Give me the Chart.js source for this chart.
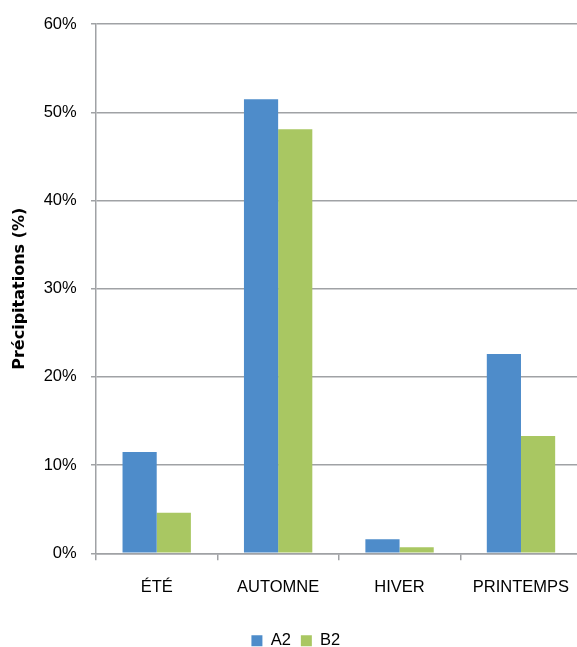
<!DOCTYPE html>
<html>
<head>
<meta charset="utf-8">
<script src="https://cdn.jsdelivr.net/npm/chart.js@4/dist/chart.umd.min.js"></script>
<style>
  html, body { margin: 0; padding: 0; overflow: hidden; background: #fff; width: 577px; height: 647px; }
  #wrap { position: absolute; left: 0; top: 0; width: 601px; height: 659px; }
</style>
</head>
<body>
<div id="wrap"><canvas id="c"></canvas></div>
<script>
const categories = ['ÉTÉ', 'AUTOMNE', 'HIVER', 'PRINTEMPS'];
const seriesNames = ['A2', 'B2'];
const valuesA2 = [11.5, 51.5, 1.6, 22.6];
const valuesB2 = [4.6, 48.1, 0.7, 13.3];
const yTicks = [0, 10, 20, 30, 40, 50, 60];
const yTitle = 'Précipitations (%)';

const GRID = '#a0a2a5';
const FONT = "'Liberation Sans', Arial, sans-serif";

new Chart(document.getElementById('c'), {
  type: 'bar',
  data: {
    labels: categories,
    datasets: [
      { label: seriesNames[0], data: valuesA2, backgroundColor: '#4e8cca', borderWidth: 0 },
      { label: seriesNames[1], data: valuesB2, backgroundColor: '#a9c762', borderWidth: 0 }
    ]
  },
  options: {
    responsive: true,
    maintainAspectRatio: false,
    devicePixelRatio: 1,
    animation: false,
    layout: { padding: { top: 21.7, left: 10, right: 19.3, bottom: 0 } },
    datasets: { bar: { categoryPercentage: 0.563, barPercentage: 1 } },
    plugins: {
      legend: {
        position: 'bottom',
        labels: {
          boxWidth: 11, boxHeight: 11, padding: 10,
          color: '#000',
          font: { family: FONT, size: 16.5 }
        }
      },
      tooltip: { enabled: false }
    },
    scales: {
      x: {
        offset: true,
        grid: { offset: true, drawOnChartArea: false, drawTicks: true, tickLength: 7, color: GRID, lineWidth: 1.5 },
        border: { display: true, color: GRID, width: 1.5 },
        ticks: { color: '#000', padding: 17, font: { family: FONT, size: 16.5 }, maxRotation: 0 },
        afterFit: (s) => { s.height = 69.2; }
      },
      y: {
        min: 0, max: 60,
        afterBuildTicks: (s) => { s.ticks = yTicks.map(v => ({ value: v })); },
        grid: { color: GRID, lineWidth: 1.5, drawTicks: true, tickLength: 5 },
        border: { display: true, color: GRID, width: 1.5 },
        ticks: { color: '#000', padding: 14.3, font: { family: FONT, size: 16.5 }, callback: (v) => v + '%' },
        title: { display: true, text: yTitle, color: '#000', padding: { top: 0, bottom: 0 }, font: { family: "'DejaVu Sans', sans-serif", size: 16, weight: 'bold' } },
        afterFit: (s) => { s.width = 86; }
      }
    }
  }
});
</script>
</body>
</html>
